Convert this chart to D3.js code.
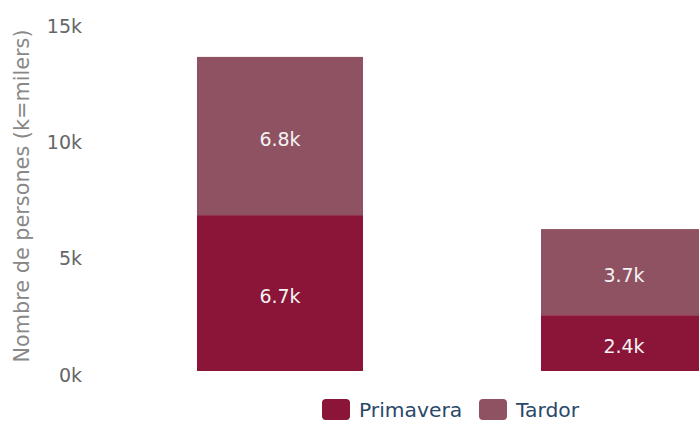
<!DOCTYPE html>
<html>
<head>
<meta charset="utf-8">
<script src="https://cdn.jsdelivr.net/npm/d3@7"></script>
<style>
  html, body { margin: 0; padding: 0; background: #fff; overflow: hidden; }
  svg { display: block; font-family: "DejaVu Sans", sans-serif; }
</style>
</head>
<body>
<svg id="chart" width="699" height="421"></svg>
<script>
// ---- data ----
const categories = ["Grup 1", "Grup 2"];
const seriesNames = ["Primavera", "Tardor"];
const primavera = [6700, 2400];
const tardor = [6800, 3700];
const yTicks = [0, 5000, 10000, 15000];
const yTitle = "Nombre de persones (k=milers)";
const colors = ["#8a1538", "#8f5262"];

const svg = d3.select("#chart");

const y = d3.scaleLinear().domain([0, 15000]).range([371, 22]);
const x = d3.scaleBand().domain(categories).range([19, 885]).paddingInner(0.5174).paddingOuter(0.5174);

const rows = categories.map((c, i) => ({ cat: c, Primavera: primavera[i], Tardor: tardor[i] }));
const stack = d3.stack().keys(seriesNames)(rows);
const color = d3.scaleOrdinal().domain(seriesNames).range(colors);

const fmt = v => (v / 1000).toFixed(1) + "k";

// bars
const layers = svg.append("g").selectAll("g").data(stack).join("g").attr("fill", d => color(d.key));
layers.selectAll("rect").data(d => d).join("rect")
  .attr("x", d => x(d.data.cat))
  .attr("width", x.bandwidth())
  .attr("y", d => y(d[1]))
  .attr("height", d => y(d[0]) - y(d[1]));

layers.selectAll("text").data(d => d).join("text")
  .attr("x", d => x(d.data.cat) + x.bandwidth() / 2)
  .attr("y", d => (y(d[0]) + y(d[1])) / 2)
  .attr("dy", "0.5em")
  .attr("text-anchor", "middle")
  .attr("fill", "#f3f3f3")
  .attr("font-size", 19)
  .text(d => fmt(d[1] - d[0]));

// y axis
const yAxis = d3.axisLeft(y).tickValues(yTicks).tickFormat(d => (d / 1000) + "k").tickSize(0).tickPadding(0);
const ga = svg.append("g").attr("transform", "translate(82,4)").call(yAxis);
ga.select(".domain").remove();
ga.selectAll("text").attr("fill", "#666").attr("font-size", 19).attr("font-family", "DejaVu Sans");

svg.append("text")
  .attr("transform", "translate(22," + 196 + ") rotate(-90)")
  .attr("text-anchor", "middle")
  .attr("dy", "0.35em")
  .attr("fill", "#888")
  .attr("font-size", 20.8)
  .text(yTitle);

// legend
const legendX = [322, 479];
const lg = svg.append("g").selectAll("g").data(seriesNames).join("g")
  .attr("transform", (d, i) => "translate(" + legendX[i] + ",399)");
lg.append("rect").attr("width", 28).attr("height", 21).attr("rx", 4).attr("fill", d => color(d));
lg.append("text").attr("x", 37).attr("y", 18)
  .attr("fill", "#2a4868").attr("font-size", 20.3).text(d => d);
</script>
</body>
</html>
